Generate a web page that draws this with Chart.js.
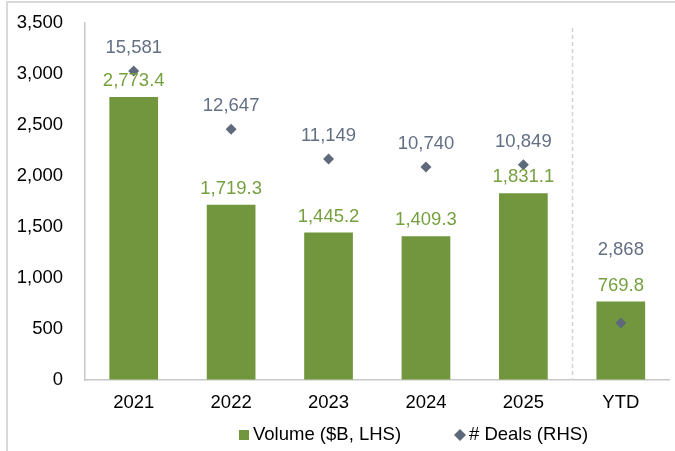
<!DOCTYPE html>
<html>
<head>
<meta charset="utf-8">
<script src="https://cdn.jsdelivr.net/npm/chart.js@4/dist/chart.umd.min.js"></script>
<style>
  html, body { margin: 0; padding: 0; background: #ffffff; }
  #wrap { position: relative; width: 675px; height: 451px; overflow: hidden; }
  canvas { display: block; }
</style>
</head>
<body>
<div id="wrap"><canvas id="c" width="675" height="451"></canvas></div>
<script>
const categories = ['2021', '2022', '2023', '2024', '2025', 'YTD'];
const volumeValues = [2773.4, 1719.3, 1445.2, 1409.3, 1831.1, 769.8];
const dealValues = [15581, 12647, 11149, 10740, 10849, 2868];
const yTicks = [0, 500, 1000, 1500, 2000, 2500, 3000, 3500];
const seriesNames = ['Volume ($B, LHS)', '# Deals (RHS)'];

const GREEN = '#71963d';
const GREEN_TXT = '#76a040';
const GRAY = '#5e6a7c';
const GRAY_TXT = '#636f83';
const FONT = '"Liberation Sans", Arial, sans-serif';
const FS = 18.5;

const fmtVol = v => v.toLocaleString('en-US', {minimumFractionDigits: 1, maximumFractionDigits: 1});
const fmtInt = v => v.toLocaleString('en-US', {maximumFractionDigits: 0});

const framePlugin = {
  id: 'frame',
  beforeDraw(chart) {
    const ctx = chart.ctx;
    ctx.save();
    ctx.strokeStyle = '#d9d9d9';
    ctx.lineWidth = 2;
    ctx.beginPath();
    ctx.moveTo(7, 451);
    ctx.lineTo(7, 2);
    ctx.lineTo(675, 2);
    ctx.stroke();
    ctx.restore();
  }
};

const dividerPlugin = {
  id: 'divider',
  beforeDatasetsDraw(chart) {
    const x = chart.scales.x;
    const y = chart.scales.y;
    const px = Math.round((x.getPixelForValue(4) + x.getPixelForValue(5)) / 2) + 0.5;
    const ctx = chart.ctx;
    ctx.save();
    ctx.strokeStyle = '#d4d4d4';
    ctx.lineWidth = 1.5;
    ctx.setLineDash([4, 3]);
    ctx.beginPath();
    ctx.moveTo(px, y.top + 5);
    ctx.lineTo(px, y.bottom);
    ctx.stroke();
    ctx.restore();
  }
};

const labelPlugin = {
  id: 'valueLabels',
  afterDatasetsDraw(chart) {
    const ctx = chart.ctx;
    const bars = chart.getDatasetMeta(0).data;
    const pts = chart.getDatasetMeta(1).data;
    ctx.save();
    ctx.font = FS + 'px ' + FONT;
    ctx.textAlign = 'center';
    ctx.textBaseline = 'middle';
    bars.forEach((b, i) => {
      ctx.fillStyle = GREEN_TXT;
      ctx.fillText(fmtVol(volumeValues[i]), b.x, b.y - 16);
    });
    pts.forEach((p, i) => {
      const barTop = bars[i].y;
      let ly = p.y - 23;
      if (p.y > barTop) ly = barTop - 52;
      ctx.fillStyle = GRAY_TXT;
      ctx.fillText(fmtInt(dealValues[i]), p.x, ly);
    });
    ctx.restore();
  }
};

const legendPlugin = {
  id: 'customLegend',
  afterDraw(chart) {
    const ctx = chart.ctx;
    const ds = chart.data.datasets;
    const y = 435;
    ctx.save();
    ctx.font = FS + 'px ' + FONT;
    ctx.textBaseline = 'middle';
    ctx.textAlign = 'left';
    let x = 239;
    ctx.fillStyle = ds[0].backgroundColor;
    ctx.fillRect(x, y - 5, 10, 10);
    ctx.fillStyle = '#000';
    ctx.fillText(ds[0].label, x + 14, y);
    x = 460;
    ctx.fillStyle = ds[1].backgroundColor;
    ctx.beginPath();
    ctx.moveTo(x, y - 6);
    ctx.lineTo(x + 6, y);
    ctx.lineTo(x, y + 6);
    ctx.lineTo(x - 6, y);
    ctx.closePath();
    ctx.fill();
    ctx.fillStyle = '#000';
    ctx.fillText(ds[1].label, x + 9, y);
    ctx.restore();
  }
};

new Chart(document.getElementById('c'), {
  data: {
    labels: categories,
    datasets: [
      {
        type: 'bar',
        label: seriesNames[0],
        data: volumeValues,
        yAxisID: 'y',
        backgroundColor: GREEN,
        borderWidth: 0,
        categoryPercentage: 1.0,
        barPercentage: 0.5,
        order: 1
      },
      {
        type: 'line',
        label: seriesNames[1],
        data: dealValues,
        yAxisID: 'y1',
        showLine: false,
        pointStyle: 'rectRot',
        pointRadius: 5.5,
        pointHoverRadius: 5.5,
        pointBackgroundColor: GRAY,
        pointBorderColor: GRAY,
        pointBorderWidth: 0,
        backgroundColor: GRAY,
        borderColor: GRAY,
        order: 0
      }
    ]
  },
  options: {
    responsive: false,
    animation: false,
    events: [],
    layout: { padding: { left: 0, right: 0, top: 23, bottom: 41 } },
    plugins: {
      legend: { display: false },
      tooltip: { enabled: false }
    },
    scales: {
      x: {
        type: 'category',
        offset: true,
        grid: {
          display: true,
          drawOnChartArea: false,
          drawTicks: true,
          tickLength: 12,
          tickColor: 'rgba(0,0,0,0)',
          color: 'rgba(0,0,0,0)'
        },
        border: { display: true, color: '#c8c8c8', width: 1.5 },
        ticks: { color: '#000', font: { family: FONT, size: FS }, padding: 0, maxRotation: 0 },
        afterFit(s) { s.height = 30; s.paddingLeft = 0; s.paddingRight = 0; }
      },
      y: {
        position: 'left',
        min: 0,
        max: 3500,
        afterBuildTicks(s) { s.ticks = yTicks.map(v => ({ value: v })); },
        grid: {
          display: true,
          drawOnChartArea: false,
          drawTicks: true,
          tickLength: 22,
          tickColor: 'rgba(0,0,0,0)',
          color: 'rgba(0,0,0,0)'
        },
        border: { display: true, color: '#c8c8c8', width: 1.5 },
        ticks: {
          color: '#000',
          font: { family: FONT, size: FS },
          padding: 0,
          callback: v => fmtInt(v)
        },
        afterFit(s) { s.width = 85; }
      },
      y1: {
        position: 'right',
        display: false,
        min: 0,
        max: 18000
      }
    }
  },
  plugins: [framePlugin, dividerPlugin, labelPlugin, legendPlugin]
});
</script>
</body>
</html>
